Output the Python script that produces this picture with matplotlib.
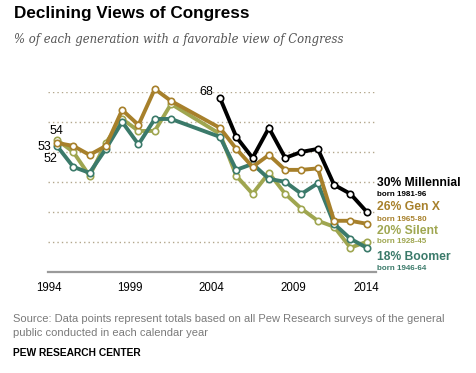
import matplotlib
matplotlib.use("Agg")
import matplotlib.pyplot as plt

# ---- data ----
years_early = [1994, 1995, 1996, 1997, 1998, 1999, 2000, 2001]
years_late = [2004, 2005, 2006, 2007, 2008, 2009, 2010, 2011, 2012, 2013]
years_all = years_early + years_late

millennial = [68, 55, 48, 58, 48, 50, 51, 39, 36, 30]
gen_x = [53, 52, 49, 52, 64, 59, 71, 67, 58, 51, 45, 49, 44, 44, 44.5, 27, 27, 26]
silent = [54, 50, 42, 53, 61, 57, 57, 66, 56, 42, 36, 43, 36, 31, 27, 25, 18, 20]
boomer = [52, 45, 43, 51, 60, 52.5, 61, 61, 55, 44, 46, 41, 40, 36, 39.5, 26, 21, 18]

tick_pos = [1993.5, 1998.5, 2003.5, 2008.5, 2013.0]
tick_labels = ["1994", "1999", "2004", "2009", "2014"]
grid_vals = [20, 30, 40, 50, 60, 70]

C_MIL = "#000000"
C_GENX = "#a7802b"
C_SIL = "#9fa650"
C_BOOM = "#3b7a6a"

fig = plt.figure(figsize=(4.77, 3.73), dpi=100)
ax = fig.add_axes([48/477, 1-271.7/373, (376-48)/477, (271.7-92)/373])
ax.set_xlim(1993.45, 2013.57)
ax.set_ylim(10, 70)

for v in grid_vals:
    ax.axhline(v, color="#b3a78c", lw=1.0, ls=(0, (1, 2.2)), zorder=1)
ax.axhline(10, color="#9a9a9a", lw=1.6, zorder=2, clip_on=False)

def draw(xs, ys, c, z):
    ax.plot(xs, ys, color=c, lw=2.8, marker="o", ms=4.6, mfc="white",
            mec=c, mew=1.2, zorder=z, clip_on=False, solid_joinstyle="miter")

draw(years_all, silent, C_SIL, 3)
draw(years_all, boomer, C_BOOM, 4)
draw(years_all, gen_x, C_GENX, 5)
draw(years_late, millennial, C_MIL, 6)

for s in ax.spines.values():
    s.set_visible(False)
ax.set_yticks([])
ax.set_xticks(tick_pos)
ax.set_xticklabels(tick_labels, family="Liberation Sans", fontsize=8.3)
ax.tick_params(axis="x", length=0, pad=7.5)

lab = dict(family="Liberation Sans", fontsize=9, color="black", ha="center", va="center")
ax.text(1993.94, 57.1, "54", **lab)
ax.text(1993.2, 51.7, "53", **lab)
ax.text(1993.57, 47.5, "52", **lab)
ax.text(2003.18, 70.1, "68", **lab)

xr = 2013.65
big = dict(family="Liberation Sans", fontsize=8.7, fontweight="bold", ha="left", va="center")
small = dict(family="Liberation Sans", fontsize=5.8, fontweight="bold", ha="left", va="center")
ax.text(xr, 39.7, "30% Millennial", color=C_MIL, **big)
ax.text(xr, 35.7, "born 1981-96", color=C_MIL, **small)
ax.text(xr, 31.7, "26% Gen X", color=C_GENX, **big)
ax.text(xr, 27.5, "born 1965-80", color=C_GENX, **small)
ax.text(xr, 23.7, "20% Silent", color=C_SIL, **big)
ax.text(xr, 20.0, "born 1928-45", color=C_SIL, **small)
ax.text(xr, 15.0, "18% Boomer", color=C_BOOM, **big)
ax.text(xr, 11.0, "born 1946-64", color=C_BOOM, **small)

fig.text(14/477, 1-13.5/373, "Declining Views of Congress", family="Liberation Sans",
         fontsize=12.3, fontweight="bold", ha="left", va="center")
fig.text(14/477, 1-40/373, "% of each generation with a favorable view of Congress",
         family="DejaVu Serif", style="italic", fontsize=8.4, color="#555555",
         ha="left", va="center")
fig.text(13.3/477, 1-319.3/373,
         "Source: Data points represent totals based on all Pew Research surveys of the general",
         family="Liberation Sans", fontsize=8.0, color="#7a7a7a", ha="left", va="center")
fig.text(13.3/477, 1-333.3/373, "public conducted in each calendar year",
         family="Liberation Sans", fontsize=8.0, color="#7a7a7a", ha="left", va="center")
fig.text(13.3/477, 1-353.3/373, "PEW RESEARCH CENTER", family="Liberation Sans",
         fontsize=7.4, fontweight="bold", color="black", ha="left", va="center")

fig.savefig("out.png", dpi=100)
